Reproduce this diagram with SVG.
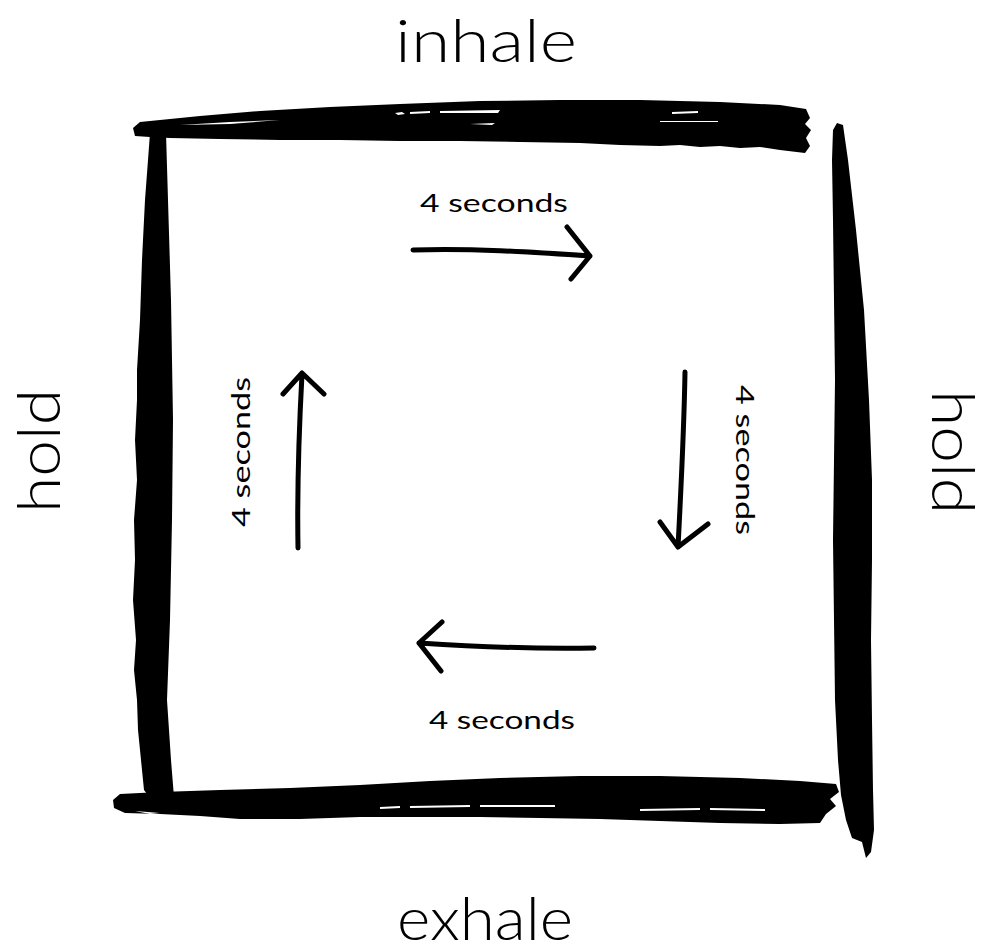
<svg xmlns="http://www.w3.org/2000/svg" width="998" height="952" viewBox="0 0 998 952">
<style>
.big{font-family:Lato,"Liberation Sans","DejaVu Sans",sans-serif;font-weight:300;font-size:60px;fill:#000;text-anchor:middle}
.small{font-family:Lato,"Liberation Sans","DejaVu Sans",sans-serif;font-weight:400;font-size:25px;fill:#000;text-anchor:middle}
.brush{fill:#000}
.streak{fill:#fff}
.arrow{fill:none;stroke:#000;stroke-width:5;stroke-linecap:round;stroke-linejoin:round}
</style>
<rect width="998" height="952" fill="#fff"/>
<g id="frame">
<g id="top-bar">
<path class="brush" d="M133,128 L140,122 L160,120 L200,116 L260,111 L330,107 L400,104 L480,101 L560,100 L640,100 L720,102 L780,105 L806,109 L810,118 L805,124 L811,130 L806,138 L810,146 L805,153 L780,150 L760,147 L740,148 L720,146 L700,147 L680,145 L660,146 L620,145 L580,143 L520,142 L460,141 L400,141 L340,140 L280,140 L220,139 L170,138 L150,137 L135,136 Z"/>
<path class="streak" d="M180,125 L230,122 L280,120 L230,124 Z"/>
<path class="streak" d="M395,113 L402,112 L405,114 L398,115 Z"/>
<path class="streak" d="M410,112 L430,111 L430,113 L410,114 Z"/>
<path class="streak" d="M440,111 L500,110 L498,113 L440,113 Z"/>
<path class="streak" d="M470,124 L495,123 L492,125 Z"/>
<path class="streak" d="M672,112 L698,111 L698,113 L672,114 Z"/>
<path class="streak" d="M660,121 L718,121 L718,122 L660,122 Z"/>
</g>
<g id="left-bar">
<path class="brush" d="M150,133 L166,133 L168,200 L171,300 L173,420 L172,520 L170,620 L167,700 L171,760 L174,797 L150,798 L144,790 L141,760 L138,730 L137,700 L134,670 L136,640 L133,600 L135,560 L134,520 L137,480 L135,440 L137,400 L137,370 L140,320 L142,260 L145,200 L148,160 Z"/>
</g>
<g id="right-bar">
<path class="brush" d="M833,130 L837,123 L843,125 L848,160 L856,230 L864,310 L869,400 L872,480 L872,560 L871,640 L872,720 L873,790 L874,830 L871,852 L866,858 L862,842 L852,838 L846,820 L841,795 L838,760 L835,700 L834,620 L833,540 L834,460 L835,380 L834,300 L833,220 L832,160 Z"/>
</g>
<g id="bottom-bar">
<path class="brush" d="M113,800 L120,794 L160,792 L220,790 L290,788 L360,785 L430,781 L500,778 L580,776 L660,776 L740,778 L800,781 L836,784 L839,792 L830,799 L836,806 L826,814 L820,823 L780,824 L720,823 L660,821 L600,819 L540,818 L480,817 L420,817 L360,817 L300,819 L240,819 L200,816 L160,814 L125,813 L114,808 Z"/>
<path class="streak" d="M380,807 L400,806 L400,808 L380,809 Z"/>
<path class="streak" d="M410,806 L470,805 L470,807 L410,808 Z"/>
<path class="streak" d="M480,805 L555,805 L555,807 L480,807 Z"/>
<path class="streak" d="M640,809 L700,808 L700,810 L640,811 Z"/>
<path class="streak" d="M710,808 L765,809 L765,811 L710,810 Z"/>
<path class="streak" d="M135,811 L160,813 L150,814 Z"/>
</g>
</g>
<g id="labels">
<text id="inhale" class="big" x="486" y="62" textLength="182" lengthAdjust="spacingAndGlyphs">inhale</text>
<text id="exhale" class="big" x="485" y="940" textLength="176" lengthAdjust="spacingAndGlyphs">exhale</text>
<text id="hold-left" class="big" transform="translate(60,451) rotate(-90)" x="0" y="0" textLength="124" lengthAdjust="spacingAndGlyphs">hold</text>
<text id="hold-right" class="big" transform="translate(932,452) rotate(90)" x="0" y="0" textLength="124" lengthAdjust="spacingAndGlyphs">hold</text>
<text id="sec-top" class="small" x="494" y="212" textLength="148" lengthAdjust="spacingAndGlyphs">4 seconds</text>
<text id="sec-bottom" class="small" x="502" y="729" textLength="146" lengthAdjust="spacingAndGlyphs">4 seconds</text>
<text id="sec-left" class="small" transform="translate(250,452) rotate(-90)" x="0" y="0" textLength="150" lengthAdjust="spacingAndGlyphs">4 seconds</text>
<text id="sec-right" class="small" transform="translate(736,460) rotate(90)" x="0" y="0" textLength="150" lengthAdjust="spacingAndGlyphs">4 seconds</text>
</g>
<g id="connectors">
<path id="arrow-right" class="arrow" d="M413,250 C470,248 530,252 590,256 M567,227 L590,256 L571,279"/>
<path id="arrow-down" class="arrow" d="M685,372 C684,430 681,490 678,547 M660,522 L678,547 L708,524"/>
<path id="arrow-left" class="arrow" d="M594,648 C540,649 480,647 419,643 M442,622 L419,643 L441,671"/>
<path id="arrow-up" class="arrow" d="M298,548 C297,490 299,430 302,374 M283,394 L302,373 L324,394"/>
</g>
</svg>
